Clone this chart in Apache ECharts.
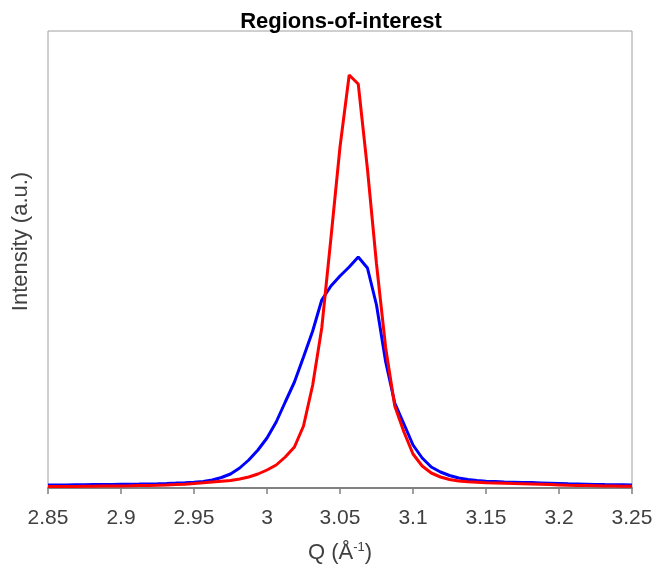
<!DOCTYPE html>
<html>
<head>
    <meta charset="UTF-8">
    <title>Regions-of-interest</title>
    <script src="https://cdn.jsdelivr.net/npm/echarts@6/dist/echarts.min.js"></script>
    <style>
        html, body { margin: 0; padding: 0; background: #fff; }
        #chart { width: 657px; height: 569px; }
    </style>
</head>
<body>
    <div id="chart"></div>
    <script>
        // Q values (Å^-1)
        const qValues = [
            2.85, 2.8563, 2.8625, 2.8688, 2.875, 2.8813, 2.8875, 2.8938, 2.9, 2.9063,
            2.9125, 2.9188, 2.925, 2.9313, 2.9375, 2.9438, 2.95, 2.9563, 2.9625, 2.9688,
            2.975, 2.9813, 2.9875, 2.9938, 3.0, 3.0063, 3.0125, 3.0188, 3.025, 3.0313,
            3.0375, 3.0438, 3.05, 3.0563, 3.0625, 3.0688, 3.075, 3.0813, 3.0875, 3.0938,
            3.1, 3.1063, 3.1125, 3.1188, 3.125, 3.1313, 3.1375, 3.1438, 3.15, 3.1563,
            3.1625, 3.1688, 3.175, 3.1813, 3.1875, 3.1938, 3.2, 3.2063, 3.2125, 3.2188,
            3.225, 3.2313, 3.2375, 3.2438, 3.25
        ];
        // intensity, arbitrary units
        const blueIntensity = [
            3, 3, 3.1, 3.2, 3.3, 3.4, 3.5, 3.6, 3.7, 3.8,
            3.9, 4.1, 4.3, 4.6, 4.9, 5.3, 5.8, 6.6, 8.0, 10.5,
            14, 20, 28, 38, 50, 66, 86, 106, 131, 157,
            188, 202, 212, 221, 231, 220, 183, 126, 85, 64,
            43, 30, 21, 16, 12.5, 10, 8.5, 7.5, 6.8, 6.4,
            6.0, 5.8, 5.6, 5.4, 5.1, 4.8, 4.5, 4.2, 4.0, 3.8,
            3.6, 3.4, 3.3, 3.2, 3.1
        ];
        const redIntensity = [
            1.5, 1.5, 1.6, 1.6, 1.7, 1.8, 1.9, 2.0, 2.1, 2.2,
            2.4, 2.6, 2.8, 3.1, 3.4, 3.8, 4.4, 5.2, 6.0, 6.8,
            7.5, 9, 11, 14, 18, 23, 31, 41, 62, 103,
            160, 250, 341, 413, 404, 319, 224, 140, 82, 56,
            34, 22, 15, 11, 8.5, 7, 6.3, 5.8, 5.3, 5.0,
            4.7, 4.4, 4.2, 4.0, 3.7, 3.4, 3.1, 2.8, 2.6, 2.4,
            2.2, 2.0, 1.9, 1.8, 1.7
        ];

        const pairs = ys => qValues.map((q, i) => [q, ys[i]]);
        const textColor = '#404040';
        const font = 'Liberation Sans, Arial, sans-serif';

        const chart = echarts.init(document.getElementById('chart'));
        chart.setOption({
            animation: false,
            title: {
                text: 'Regions-of-interest',
                left: 336,
                top: 6,
                textAlign: 'center',
                textStyle: {
                    fontFamily: font,
                    fontSize: 22,
                    fontWeight: 'bold',
                    color: '#000'
                }
            },
            grid: {
                left: 48,
                right: 25,
                top: 31,
                bottom: 81,
                show: true,
                borderColor: '#a0a0a0',
                borderWidth: 1
            },
            xAxis: {
                type: 'value',
                min: 2.85,
                max: 3.25,
                interval: 0.05,
                name: 'Q (Å{sup|-1})',
                nameLocation: 'middle',
                nameGap: 53,
                nameTextStyle: {
                    fontFamily: font,
                    fontSize: 22,
                    color: textColor,
                    rich: {
                        sup: {
                            fontFamily: font,
                            fontSize: 13,
                            color: textColor,
                            verticalAlign: 'top',
                            padding: [0, 0, 10, 0]
                        }
                    }
                },
                axisLine: { onZero: false, lineStyle: { color: '#808080', width: 2 } },
                axisTick: { show: true, length: 6, lineStyle: { color: '#808080', width: 1.5 } },
                axisLabel: {
                    margin: 20,
                    fontFamily: font,
                    fontSize: 21,
                    color: textColor
                },
                splitLine: { show: false }
            },
            yAxis: {
                type: 'value',
                min: 0,
                max: 457,
                name: 'Intensity (a.u.)',
                nameLocation: 'middle',
                nameGap: 16,
                nameTextStyle: {
                    fontFamily: font,
                    fontSize: 22,
                    color: textColor,
                    padding: [0, 0, 0, 36]
                },
                axisLine: { show: false },
                axisTick: { show: false },
                axisLabel: { show: false },
                splitLine: { show: false }
            },
            series: [
                {
                    type: 'line',
                    data: pairs(blueIntensity),
                    showSymbol: false,
                    lineStyle: { color: '#0000ff', width: 3 },
                    itemStyle: { color: '#0000ff' }
                },
                {
                    type: 'line',
                    data: pairs(redIntensity),
                    showSymbol: false,
                    lineStyle: { color: '#ff0000', width: 3 },
                    itemStyle: { color: '#ff0000' }
                }
            ]
        });
    </script>
</body>
</html>
